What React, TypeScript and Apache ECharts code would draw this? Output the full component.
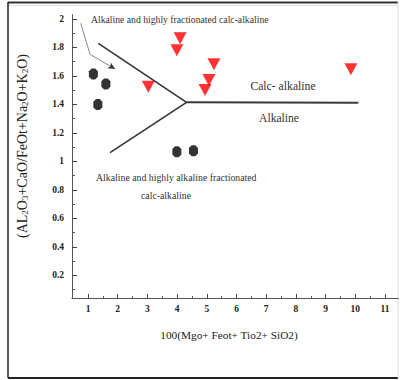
import React, { useEffect, useRef } from "react";
import * as echarts from "echarts";

// ---- data ----
const xTickValues = [1, 2, 3, 4, 5, 6, 7, 8, 9, 10, 11];
const xMinorTickValues = [1.5, 2.5, 3.5, 4.5, 5.5, 6.5, 7.5, 8.5, 9.5, 10.5];
const yLabelValues = [0.2, 0.4, 0.6, 0.8, 1, 1.2, 1.4, 1.6, 1.8, 2];
const yMinorTickValues = [0.1, 0.3, 0.5, 0.7, 0.9, 1.1, 1.3, 1.5, 1.7, 1.9];

const blackX = [1.18, 1.6, 1.33, 3.99, 4.55];
const blackY = [1.614, 1.544, 1.4, 1.069, 1.076];

const redX = [3.03, 4.1, 3.99, 5.24, 5.07, 4.94, 9.85];
const redY = [1.525, 1.865, 1.78, 1.682, 1.572, 1.502, 1.647];

const boundaryX = [1.347, 4.316, 1.741];
const boundaryY = [1.829, 1.415, 1.062];
const splitX = [4.316, 10.1];
const splitY = [1.415, 1.413];
const arrowX = [0.754, 1.067, 1.909];
const arrowY = [1.97, 1.752, 1.649];

const xTitle = "100(Mgo+ Feot+ Tio2+ SiO2)";
const topLabel = "Alkaline and highly fractionated calc-alkaline";
const calcLabel = "Calc- alkaline";
const alkLabel = "Alkaline";
const bottomLabel1 = "Alkaline and highly alkaline fractionated";
const bottomLabel2 = "calc-alkaline";

const SERIF = "Liberation Serif";

const zip = (xs: number[], ys: number[]) => xs.map((x, i) => [x, ys[i]]);

export default function App() {
  const ref = useRef<HTMLDivElement>(null);
  useEffect(() => {
    if (!ref.current) return;
    const chart = echarts.init(ref.current, null, { renderer: "svg" });
    const xMin = 0.46, xMax = 11.45, yMin = 0.042, yMax = 2.03;
    const axisCommon = {
      type: "value" as const,
      splitLine: { show: false },
    };
    const arrowData = zip(arrowX, arrowY).map((v, i) =>
      i === arrowX.length - 1
        ? { value: v, symbol: "arrow", symbolSize: [5, 7], symbolRotate: -121 }
        : { value: v, symbol: "none" }
    );
    const tickLabel = {
      fontFamily: SERIF,
      fontWeight: "bold",
      fontSize: 9.5,
      color: "#222",
    };
    chart.setOption({
      animation: false,
      backgroundColor: "#fff",
      textStyle: { fontFamily: SERIF },
      grid: { left: 72, top: 14.7, width: 326.4, height: 283.3 },
      xAxis: [
        {
          ...axisCommon,
          min: xMin,
          max: xMax,
          position: "bottom",
          axisLine: { show: true, lineStyle: { color: "#555", width: 1 } },
          axisTick: { show: true, inside: true, length: 4, customValues: xTickValues, lineStyle: { color: "#444" } },
          axisLabel: { ...tickLabel, customValues: xTickValues, margin: 6 },
        },
        {
          ...axisCommon,
          min: xMin,
          max: xMax,
          position: "bottom",
          axisLine: { show: false },
          axisTick: { show: true, inside: true, length: 2, customValues: xMinorTickValues, lineStyle: { color: "#555" } },
          axisLabel: { show: false },
        },
      ],
      yAxis: [
        {
          ...axisCommon,
          min: yMin,
          max: yMax,
          position: "left",
          axisLine: { show: true, lineStyle: { color: "#555", width: 1 } },
          axisTick: { show: true, inside: true, length: 5, customValues: yLabelValues, lineStyle: { color: "#444" } },
          axisLabel: {
            ...tickLabel,
            customValues: yLabelValues,
            margin: 8,
            formatter: (v: number) => String(+v.toFixed(1)),
          },
        },
        {
          ...axisCommon,
          min: yMin,
          max: yMax,
          position: "left",
          axisLine: { show: false },
          axisTick: { show: true, inside: true, length: 3, customValues: yMinorTickValues, lineStyle: { color: "#555" } },
          axisLabel: { show: false },
        },
      ],
      series: [
        {
          type: "line",
          data: zip(boundaryX, boundaryY),
          showSymbol: false,
          symbol: "none",
          lineStyle: { color: "#333", width: 1.6 },
          z: 2,
        },
        {
          type: "line",
          data: zip(splitX, splitY),
          showSymbol: false,
          symbol: "none",
          lineStyle: { color: "#3a3a3a", width: 2 },
          z: 2,
        },
        {
          type: "line",
          data: arrowData,
          lineStyle: { color: "#888", width: 1 },
          itemStyle: { color: "#333" },
          z: 2,
        },
        {
          type: "scatter",
          data: zip(blackX, blackY),
          symbol: "path://M3,0 L7,0 L10,3 L10,9 L7,12 L3,12 L0,9 L0,3 Z",
          symbolSize: [9, 11],
          itemStyle: { color: "#000" },
          z: 3,
        },
        {
          type: "scatter",
          data: zip(redX, redY),
          symbol: "path://M0,0 L10,0 L5,9 Z",
          symbolSize: [13, 12],
          itemStyle: { color: "#ff0000" },
          z: 3,
        },
      ],
      graphic: [
        { type: "line", shape: { x1: 8, y1: 2.5, x2: 398, y2: 2.5 }, style: { stroke: "#333", lineWidth: 2 } },
        { type: "line", shape: { x1: 8, y1: 5.5, x2: 398, y2: 5.5 }, style: { stroke: "#ddd", lineWidth: 1 } },
        { type: "line", shape: { x1: 8, y1: 2, x2: 8, y2: 378 }, style: { stroke: "#222", lineWidth: 1.5 } },
        { type: "line", shape: { x1: 8, y1: 378, x2: 398, y2: 378 }, style: { stroke: "#222", lineWidth: 2 } },
        { type: "line", shape: { x1: 398, y1: 2, x2: 398, y2: 378 }, style: { stroke: "#ddd", lineWidth: 1 } },
        {
          type: "text", x: 91, y: 19,
          style: { text: topLabel, fontFamily: SERIF, fontSize: 9.7, fill: "#333", align: "left", verticalAlign: "middle", textAlign: "left", textVerticalAlign: "middle" },
        },
        {
          type: "text", x: 283, y: 86,
          style: { text: calcLabel, fontFamily: SERIF, fontSize: 11.7, fill: "#333", align: "center", verticalAlign: "middle", textAlign: "center", textVerticalAlign: "middle" },
        },
        {
          type: "text", x: 279, y: 118,
          style: { text: alkLabel, fontFamily: SERIF, fontSize: 11.6, fill: "#333", align: "center", verticalAlign: "middle", textAlign: "center", textVerticalAlign: "middle" },
        },
        {
          type: "text", x: 96, y: 177,
          style: { text: bottomLabel1, fontFamily: SERIF, fontSize: 9.8, fill: "#333", align: "left", verticalAlign: "middle", textAlign: "left", textVerticalAlign: "middle" },
        },
        {
          type: "text", x: 166, y: 195,
          style: { text: bottomLabel2, fontFamily: SERIF, fontSize: 9.8, fill: "#333", align: "center", verticalAlign: "middle", textAlign: "center", textVerticalAlign: "middle" },
        },
        {
          type: "text", x: 229, y: 335,
          style: { text: xTitle, fontFamily: SERIF, fontSize: 11.3, fill: "#222", align: "center", verticalAlign: "middle", textAlign: "center", textVerticalAlign: "middle" },
        },
        {
          type: "text", x: 22, y: 146, rotation: Math.PI / 2,
          style: {
            text: "{n|(AL}{s|2}{n|O}{s|3}{n|+CaO/FeOt+Na}{s|2}{n|O+K}{s|2}{n|O)}",
            fill: "#222",
            align: "center", verticalAlign: "middle", textAlign: "center", textVerticalAlign: "middle",
            rich: {
              n: { fontFamily: SERIF, fontSize: 14, fill: "#222", color: "#222" },
              s: { fontFamily: SERIF, fontSize: 9, fill: "#222", color: "#222", verticalAlign: "bottom" },
            },
          },
        },
      ],
    });
    return () => chart.dispose();
  }, []);
  return (
    <div
      ref={ref}
      style={{ position: "fixed", left: 0, top: 0, width: 400, height: 380, background: "#fff" }}
    />
  );
}
